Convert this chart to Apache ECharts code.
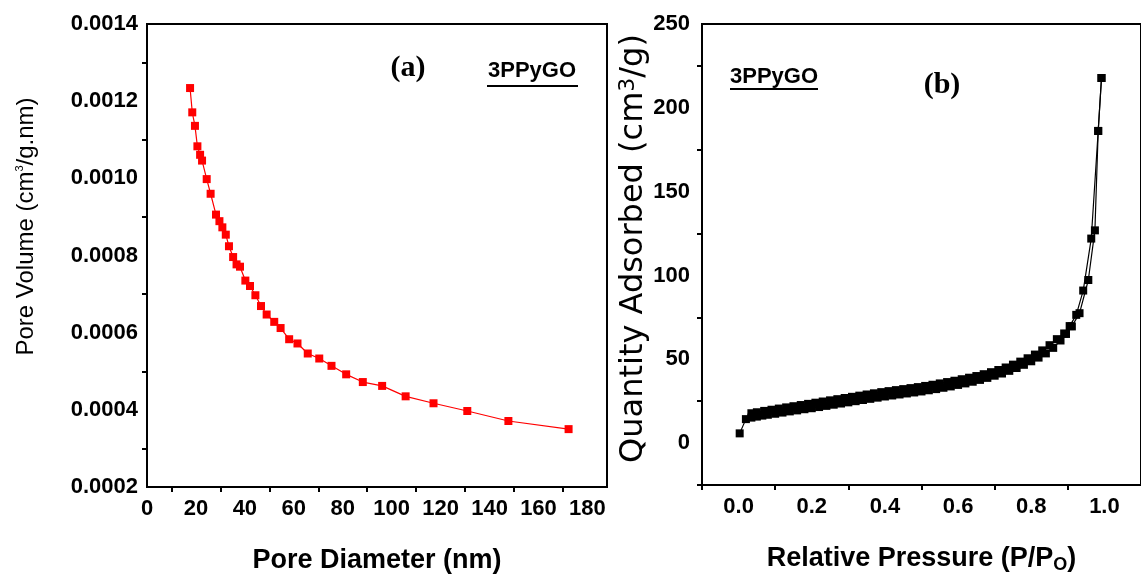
<!DOCTYPE html>
<html>
<head>
<meta charset="utf-8">
<script src="https://cdn.jsdelivr.net/npm/echarts@6/dist/echarts.min.js"></script>
<style>
  html, body { margin: 0; padding: 0; background: #ffffff; }
  #chart { width: 1141px; height: 579px; }
</style>
</head>
<body>
<div id="chart"></div>
<script>
// (a) BJH pore size distribution
const poreDiameter = [17.6, 18.5, 19.6, 20.6, 21.7, 22.5, 24.4, 26.0, 28.2, 29.6, 30.8, 32.2,
  33.5, 35.2, 36.6, 38.0, 40.2, 42.1, 44.3, 46.6, 48.9, 52.0, 54.6, 58.1, 61.5, 65.7, 70.4,
  75.4, 81.4, 88.2, 96.1, 105.7, 117.1, 130.9, 147.7, 172.3];
const poreVolume = [0.001234, 0.001171, 0.001136, 0.001083, 0.001061, 0.001046, 0.000998,
  0.000960, 0.000906, 0.000889, 0.000873, 0.000854, 0.000824, 0.000796, 0.000777, 0.000771,
  0.000735, 0.000721, 0.000697, 0.000669, 0.000647, 0.000628, 0.000612, 0.000583, 0.000572,
  0.000546, 0.000533, 0.000514, 0.000492, 0.000472, 0.000462, 0.000435, 0.000417, 0.000397,
  0.000371, 0.000350];

// (b) N2 adsorption / desorption isotherm
const adsPressure = [0.003, 0.02, 0.035, 0.05, 0.065, 0.08, 0.10, 0.12, 0.14, 0.16, 0.18, 0.20,
  0.22, 0.24, 0.26, 0.28, 0.30, 0.32, 0.34, 0.36, 0.38, 0.40, 0.42, 0.44, 0.46, 0.48, 0.50,
  0.52, 0.54, 0.56, 0.58, 0.60, 0.62, 0.64, 0.66, 0.68, 0.70, 0.72, 0.74, 0.76, 0.78, 0.80,
  0.82, 0.84, 0.86, 0.88, 0.895, 0.911, 0.932, 0.956, 0.974, 0.983, 0.992];
const adsQuantity = [5.8, 14.3, 15.2, 15.8, 16.4, 16.9, 17.5, 18.2, 18.9, 19.5, 20.2, 20.8,
  21.5, 22.2, 22.9, 23.6, 24.3, 25.0, 25.7, 26.4, 27.1, 27.8, 28.4, 29.0, 29.6, 30.2, 30.8,
  31.5, 32.2, 33.0, 33.8, 34.7, 35.6, 36.6, 37.7, 38.9, 40.2, 41.5, 43.1, 44.8, 46.7, 48.8,
  51.0, 53.5, 56.8, 61.2, 65.1, 69.6, 77.5, 97.3, 126.9, 186.2, 217.8];
const desPressure = [0.992, 0.983, 0.964, 0.942, 0.923, 0.905, 0.89, 0.87, 0.85, 0.83, 0.81,
  0.79, 0.77, 0.75, 0.73, 0.71, 0.69, 0.67, 0.65, 0.63, 0.61, 0.59, 0.57, 0.55, 0.53, 0.51,
  0.49, 0.47, 0.45, 0.43, 0.41, 0.39, 0.37, 0.35, 0.33, 0.31, 0.29, 0.27, 0.25, 0.23, 0.21,
  0.19, 0.17, 0.15, 0.13, 0.11, 0.09, 0.07, 0.05, 0.035];
const desQuantity = [217.8, 186.2, 122.0, 91.0, 76.5, 69.8, 65.4, 62.0, 58.4, 55.3, 52.8,
  50.6, 48.6, 46.8, 45.1, 43.6, 42.3, 41.1, 40.0, 39.0, 38.1, 37.2, 36.4, 35.6, 34.8, 34.1,
  33.4, 32.8, 32.2, 31.6, 31.0, 30.4, 29.7, 29.0, 28.3, 27.6, 26.9, 26.2, 25.5, 24.8, 24.1,
  23.4, 22.7, 22.0, 21.3, 20.6, 19.9, 19.2, 18.4, 17.8];

// tick positions and labels
const diamLabels = [0, 20, 40, 60, 80, 100, 120, 140, 160, 180];
const diamTicks = [10, 30, 50, 70, 90, 110, 130, 150, 170];
const volumeLabels = [0.0002, 0.0004, 0.0006, 0.0008, 0.0010, 0.0012, 0.0014];
const volumeTicks = [0.0003, 0.0005, 0.0007, 0.0009, 0.0011, 0.0013];
const pressureLabels = [0, 0.2, 0.4, 0.6, 0.8, 1.0];
const pressureTicks = [-0.1, 0.1, 0.3, 0.5, 0.7, 0.9];
const quantityLabels = [0, 50, 100, 150, 200, 250];
const quantityTicks = [-25, 25, 75, 125, 175, 225];

const SANS = "'Liberation Sans', Arial, sans-serif";
const DEJAVU = "'DejaVu Sans', sans-serif";

const zip = (xs, ys) => xs.map((x, i) => [x, ys[i]]);

const axisLine = { show: true, onZero: false, lineStyle: { color: '#000', width: 2 } };
const tickStyle = { color: '#000', width: 2 };
const labelStyle = { color: '#000', fontFamily: SANS, fontWeight: 'bold', fontSize: 22 };

const chart = echarts.init(document.getElementById('chart'), null, { renderer: 'canvas' });

chart.setOption({
  animation: false,
  backgroundColor: '#ffffff',
  grid: [
    { left: 147, top: 24, width: 460, height: 464, show: true, borderColor: '#000', borderWidth: 2, backgroundColor: 'transparent' },
    { left: 702, top: 24, right: -4, height: 464, show: true, borderColor: '#000', borderWidth: 2, backgroundColor: 'transparent' }
  ],
  xAxis: [
    {
      gridIndex: 0, type: 'value', min: 0, max: 188,
      axisLine: axisLine,
      axisTick: { show: true, inside: false, length: 5, customValues: diamTicks, lineStyle: tickStyle },
      axisLabel: Object.assign({ customValues: diamLabels, margin: 11 }, labelStyle),
      splitLine: { show: false },
      name: 'Pore Diameter (nm)', nameLocation: 'middle', nameGap: 60,
      nameTextStyle: { color: '#000', fontFamily: SANS, fontWeight: 'bold', fontSize: 27 }
    },
    {
      gridIndex: 1, type: 'value', min: -0.1, max: 1.1,
      axisLine: axisLine,
      axisTick: { show: true, inside: false, length: 5, customValues: pressureTicks, lineStyle: tickStyle },
      axisLabel: Object.assign({ customValues: pressureLabels, margin: 11, formatter: v => v.toFixed(1) }, labelStyle),
      splitLine: { show: false },
      name: 'Relative Pressure (P/P{sub|O})', nameLocation: 'middle', nameGap: 59,
      nameTextStyle: {
        color: '#000', fontFamily: SANS, fontWeight: 'bold', fontSize: 27,
        rich: { sub: { fontFamily: SANS, fontWeight: 'bold', fontSize: 18, verticalAlign: 'bottom', padding: [12, 0, 0, 0] } }
      }
    }
  ],
  yAxis: [
    {
      gridIndex: 0, type: 'value', min: 0.0002, max: 0.0014,
      axisLine: axisLine,
      axisTick: { show: true, inside: false, length: 5, customValues: volumeTicks, lineStyle: tickStyle },
      axisLabel: Object.assign({ customValues: volumeLabels, margin: 9, formatter: v => v.toFixed(4) }, labelStyle),
      splitLine: { show: false },
      name: 'Pore Volume (cm{sup|3}/g.nm)', nameLocation: 'middle', nameGap: 109,
      nameTextStyle: {
        color: '#000', fontFamily: SANS, fontSize: 24, padding: [0, 0, 0, 58],
        rich: { sup: { fontFamily: SANS, fontSize: 11, verticalAlign: 'top' } }
      }
    },
    {
      gridIndex: 1, type: 'value', min: -25, max: 250,
      axisLine: axisLine,
      axisTick: { show: true, inside: false, length: 5, customValues: quantityTicks, lineStyle: tickStyle },
      axisLabel: Object.assign({ customValues: quantityLabels, margin: 12 }, labelStyle),
      splitLine: { show: false },
      name: 'Quantity Adsorbed (cm{sup|3}/g)', nameLocation: 'middle', nameGap: 47,
      nameTextStyle: {
        color: '#000', fontFamily: DEJAVU, fontSize: 32, padding: [0, 0, 0, 12],
        rich: { sup: { fontFamily: DEJAVU, fontSize: 22, verticalAlign: 'top' } }
      }
    }
  ],
  series: [
    {
      name: 'pore size', type: 'line', xAxisIndex: 0, yAxisIndex: 0,
      data: zip(poreDiameter, poreVolume),
      symbol: 'rect', symbolSize: 8,
      itemStyle: { color: '#ff0000' },
      lineStyle: { color: '#ff0000', width: 1.2 }
    },
    {
      name: 'adsorption', type: 'line', xAxisIndex: 1, yAxisIndex: 1,
      data: zip(adsPressure, adsQuantity),
      symbol: 'rect', symbolSize: 8,
      itemStyle: { color: '#000' },
      lineStyle: { color: '#000', width: 1.2 }
    },
    {
      name: 'desorption', type: 'line', xAxisIndex: 1, yAxisIndex: 1,
      data: zip(desPressure, desQuantity),
      symbol: 'rect', symbolSize: 8,
      itemStyle: { color: '#000' },
      lineStyle: { color: '#000', width: 1.2 }
    }
  ],
  graphic: [
    { type: 'text', x: 408, y: 68, style: { text: '(a)', font: "bold 30px 'Liberation Serif', serif", fill: '#000', align: 'center', verticalAlign: 'middle' } },
    { type: 'text', x: 532, y: 71, style: { text: '3PPyGO', font: "bold 22px " + SANS, fill: '#000', align: 'center', verticalAlign: 'middle' } },
    { type: 'rect', shape: { x: 487, y: 85, width: 91, height: 2 }, style: { fill: '#000' } },
    { type: 'text', x: 774, y: 77, style: { text: '3PPyGO', font: "bold 22px " + SANS, fill: '#000', align: 'center', verticalAlign: 'middle' } },
    { type: 'rect', shape: { x: 730, y: 88, width: 88, height: 2 }, style: { fill: '#000' } },
    { type: 'text', x: 942, y: 85, style: { text: '(b)', font: "bold 30px 'Liberation Serif', serif", fill: '#000', align: 'center', verticalAlign: 'middle' } }
  ]
});
</script>
</body>
</html>
